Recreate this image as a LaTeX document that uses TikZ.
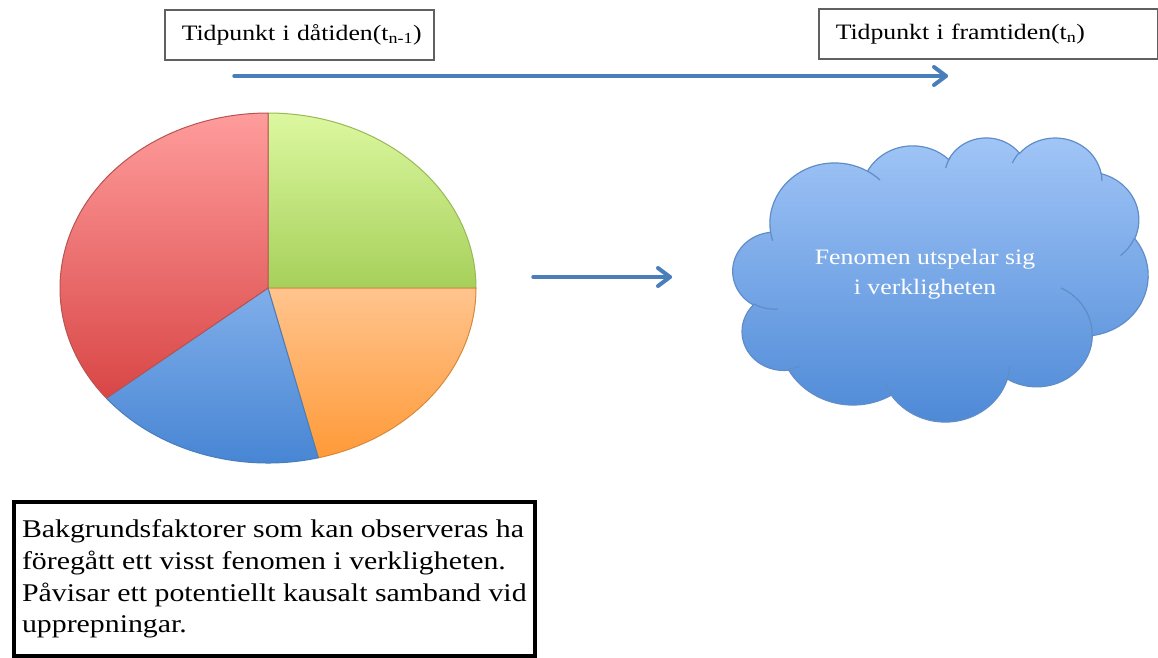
\documentclass[tikz,border=0pt]{standalone}
\usepackage{fontspec}
\setmainfont{Liberation Serif}[FakeStretch=1.17]
\usetikzlibrary{arrows.meta}
\definecolor{labgray}{HTML}{606060}
\definecolor{arrowblue}{HTML}{4A7EBB}
\definecolor{redtop}{HTML}{FF9C9C}
\definecolor{redbot}{HTML}{D94646}
\definecolor{redline}{HTML}{B85450}
\definecolor{greentop}{HTML}{DCF8A0}
\definecolor{greenbot}{HTML}{A6D05A}
\definecolor{greenline}{HTML}{98B954}
\definecolor{orangetop}{HTML}{FFC48E}
\definecolor{orangebot}{HTML}{FF9A38}
\definecolor{orangeline}{HTML}{D9893A}
\definecolor{bluetop}{HTML}{80AEEA}
\definecolor{bluebot}{HTML}{4483D2}
\definecolor{blueline}{HTML}{4A7EBB}
\definecolor{cloudtop}{HTML}{A2C6F7}
\definecolor{cloudbot}{HTML}{4C88D6}
\definecolor{cloudline}{HTML}{5F8DC8}
\tikzset{
  labelbox/.style={draw=labgray, line width=1.5pt, fill=white, anchor=north west,
    minimum height=50pt, align=left, inner xsep=17pt,
    font=\fontsize{22}{27}\selectfont},
  timearrow/.style={draw=arrowblue, line width=3.5pt, line cap=round},
  arrowhead/.style={draw=arrowblue, line width=4pt, line cap=round, line join=round},
  slice/.style={line width=1pt, line join=round},
  oarc/.style n args={4}{x radius=#1, y radius=#2,
    start angle={atan2(#1*sin(#3),#2*cos(#3))},
    delta angle={mod(atan2(#1*sin(#3+#4),#2*cos(#3+#4))-atan2(#1*sin(#3),#2*cos(#3))+720,360)}},
  cloudshape/.style={top color=cloudtop, bottom color=cloudbot, draw=cloudline, line width=1.2pt},
  cloudinner/.style={draw=cloudline, line width=1.2pt},
  cloudtext/.style={text=white, align=center, font=\fontsize{22}{30}\selectfont},
  textbox/.style={draw=black, line width=4pt, anchor=north west, minimum width=515pt,
    minimum height=154pt, align=left, inner xsep=8pt,
    font=\fontsize{25.5}{31.7}\selectfont}
}
\begin{document}
\begin{tikzpicture}[x=1pt,y=-1pt]
\useasboundingbox (0,0) rectangle (1158,657);
% time labels
\node[labelbox, text width=235pt] (past) at (164,9) {\mbox{Tidpunkt i dåtiden(t\textsubscript{n-1})}};
\node[labelbox, text width=305pt] (future) at (818,8) {\mbox{Tidpunkt i framtiden(t\textsubscript{n})}};
\coordinate (ta) at (234,76);
\coordinate (tb) at (946,76);
\draw[timearrow] (ta) -- (tb);
\draw[arrowhead] (tb) ++(-12,-9) -- (tb) -- ++(-12,9);
% pie
\coordinate (pc) at (268,288);
\path[slice, top color=greentop, bottom color=greenbot, draw=greenline]
  (pc) -- ++(-90:208 and 175) arc[x radius=208, y radius=175, start angle=-90, end angle=0] -- cycle;
\path[slice, top color=orangetop, bottom color=orangebot, draw=orangeline]
  (pc) -- ++(0:208 and 175) arc[x radius=208, y radius=175, start angle=0, end angle=76] -- cycle;
\path[slice, top color=bluetop, bottom color=bluebot, draw=blueline]
  (pc) -- ++(76:208 and 175) arc[x radius=208, y radius=175, start angle=76, end angle=141] -- cycle;
\path[slice, top color=redtop, bottom color=redbot, draw=redline]
  (pc) -- ++(141:208 and 175) arc[x radius=208, y radius=175, start angle=141, end angle=270] -- cycle;
% middle arrow
\coordinate (ma) at (533,277);
\coordinate (mb) at (670,277);
\draw[timearrow] (ma) -- (mb);
\draw[arrowhead] (mb) ++(-12,-9) -- (mb) -- ++(-12,9);
% cloud
\begin{scope}[shift={(733,137)}, x=0.96065pt, y=-0.65741pt]
\path[cloudshape] (39.00,143.70)
  arc[oarc={67.53}{91.90}{-190.48748}{123.78053}]
  arc[oarc={53.33}{72.67}{-144.10238}{89.94523}]
  arc[oarc={43.65}{59.45}{-145.80792}{99.72302}]
  arc[oarc={48.57}{65.95}{-130.98607}{117.24173}]
  arc[oarc={53.33}{72.73}{-78.70888}{109.02692}]
  arc[oarc={67.75}{92.20}{-46.26725}{130.269}]
  arc[oarc={57.85}{78.67}{0.62502}{114.03333}]
  arc[oarc={67.52}{92.15}{22.4516}{115.17255}]
  arc[oarc={77.20}{105.43}{66.24263}{75.71102}]
  arc[oarc={43.60}{59.18}{-274.94208}{146.73557}]
  arc[oarc={43.45}{59.45}{-246.8285}{152.51885}]
  -- cycle;
\draw[cloudinner]
  (46.93,261.77) arc[oarc={43.45}{59.45}{86.742}{26.4295}]
  (69.28,348.99) arc[oarc={43.60}{59.18}{73.61047}{11.44747}]
  (164.78,390.90) arc[oarc={67.52}{92.15}{137.62415}{14.0811}]
  (288.27,347.51) arc[oarc={67.52}{92.15}{6.45327}{15.99835}]
  (341.29,229.54) arc[oarc={57.85}{78.67}{-70.29235}{70.91737}]
  (417.98,153.54) arc[oarc={53.33}{72.73}{30.31803}{27.7515}]
  (383.24,54.26) arc[oarc={48.57}{65.95}{-13.74433}{14.857}]
  (290.78,39.52) arc[oarc={48.57}{65.95}{-149.18145}{18.19588}]
  (221.41,47.20) arc[oarc={43.65}{59.45}{-163.49427}{20.58383}]
  (140.00,51.92) arc[oarc={67.53}{91.90}{-66.70695}{12.31935}]
  (41.27,157.89) arc[oarc={67.53}{91.90}{157.65435}{11.85817}];
\end{scope}
\node[cloudtext] (fen) at (925,274) {Fenomen utspelar sig\\i verkligheten};
% explanation box
\node[textbox] (bg) at (12,500) {Bakgrundsfaktorer som kan observeras ha\\föregått ett visst fenomen i verkligheten.\\Påvisar ett potentiellt kausalt samband vid\\upprepningar.};
\end{tikzpicture}
\end{document}
